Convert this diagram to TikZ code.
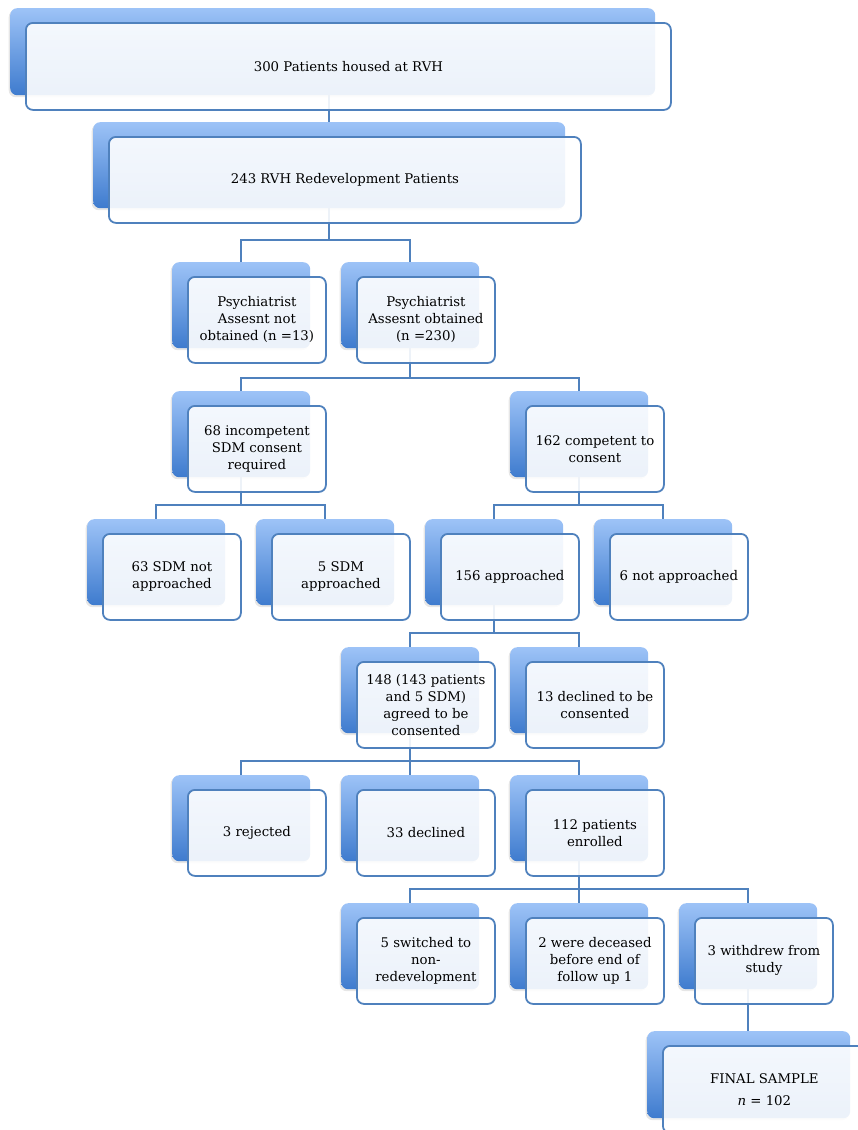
\documentclass[tikz,border=0pt]{standalone}
\usepackage{fontspec}
\setmainfont{DejaVu Serif}
\usetikzlibrary{shadows}
\definecolor{backtop}{RGB}{157,195,247}
\definecolor{backbot}{RGB}{62,123,206}
\definecolor{edgeblue}{RGB}{79,129,189}
\pgfdeclarelayer{bg}
\pgfsetlayers{bg,main}
\tikzset{
  backbox/.style={rectangle, rounded corners=7pt, top color=backtop, bottom color=backbot,
    draw=none, anchor=north west, inner sep=0pt,
    drop shadow={shadow xshift=-1.5pt, shadow yshift=-2pt, opacity=0.2}},
  frontbox/.style={rectangle, rounded corners=7pt, fill=white, fill opacity=0.9, text opacity=1,
    draw=edgeblue, draw opacity=1, line width=1.8pt, anchor=north west, align=center,
    inner sep=2pt, font=\fontsize{13.3}{17}\selectfont, text=black},
  link/.style={draw=edgeblue, line width=1.8pt}
}
\newcommand{\flowbox}[6]{%
  \node[backbox, minimum width=#4, minimum height=#5] (#1B) at (#2,#3) {};
  \node[frontbox, minimum width=#4, minimum height=#5] (#1) at ([shift={(15,14)}]#1B.north west) {#6};
}
\begin{document}
\begin{tikzpicture}[x=1pt,y=-1pt]
\useasboundingbox (0,0) rectangle (857,1130);
\flowbox{a}{10}{8}{645pt}{87pt}{300 Patients housed at RVH}
\flowbox{b}{93}{122}{472pt}{86pt}{243 RVH Redevelopment Patients}
\flowbox{c1}{172}{262}{138pt}{86pt}{Psychiatrist\\Assesnt not\\obtained (n =13)}
\flowbox{c2}{341}{262}{138pt}{86pt}{Psychiatrist\\Assesnt obtained\\(n =230)}
\flowbox{d1}{172}{391}{138pt}{86pt}{68 incompetent\\SDM consent\\required}
\flowbox{d2}{510}{391}{138pt}{86pt}{162 competent to\\consent}
\flowbox{e1}{87}{519}{138pt}{86pt}{63 SDM not\\approached}
\flowbox{e2}{256}{519}{138pt}{86pt}{5 SDM\\approached}
\flowbox{e3}{425}{519}{138pt}{86pt}{156 approached}
\flowbox{e4}{594}{519}{138pt}{86pt}{6 not approached}
\flowbox{f1}{341}{647}{138pt}{86pt}{148 (143 patients\\and 5 SDM)\\agreed to be\\consented}
\flowbox{f2}{510}{647}{138pt}{86pt}{13 declined to be\\consented}
\flowbox{g1}{172}{775}{138pt}{86pt}{3 rejected}
\flowbox{g2}{341}{775}{138pt}{86pt}{33 declined}
\flowbox{g3}{510}{775}{138pt}{86pt}{112 patients\\enrolled}
\flowbox{h1}{341}{903}{138pt}{86pt}{5 switched to\\non-\\redevelopment}
\flowbox{h2}{510}{903}{138pt}{86pt}{2 were deceased\\before end of\\follow up 1}
\flowbox{h3}{679}{903}{138pt}{86pt}{3 withdrew from\\study}
\flowbox{k}{647}{1031}{203pt}{87pt}{FINAL SAMPLE\\[5pt]\textit{n} = 102}
\coordinate (bus1) at (0,240);
\coordinate (bus2) at (0,378);
\coordinate (bus3) at (0,505);
\coordinate (bus4) at (0,633);
\coordinate (bus5) at (0,761);
\coordinate (bus6) at (0,889);
\begin{pgfonlayer}{bg}
\draw[link] (bB.north |- aB.south) -- (bB.north);
\foreach \c in {c1,c2}{\draw[link] (bB.south) -- (bB.south |- bus1) -| (\c B.north);}
\foreach \c in {d1,d2}{\draw[link] (c2B.south) -- (c2B.south |- bus2) -| (\c B.north);}
\foreach \c in {e1,e2}{\draw[link] (d1B.south) -- (d1B.south |- bus3) -| (\c B.north);}
\foreach \c in {e3,e4}{\draw[link] (d2B.south) -- (d2B.south |- bus3) -| (\c B.north);}
\foreach \c in {f1,f2}{\draw[link] (e3B.south) -- (e3B.south |- bus4) -| (\c B.north);}
\foreach \c in {g1,g2,g3}{\draw[link] (f1B.south) -- (f1B.south |- bus5) -| (\c B.north);}
\foreach \c in {h1,h2,h3}{\draw[link] (g3B.south) -- (g3B.south |- bus6) -| (\c B.north);}
\draw[link] (h3B.south) -- (h3B.south |- kB.north);
\end{pgfonlayer}
\end{tikzpicture}
\end{document}
